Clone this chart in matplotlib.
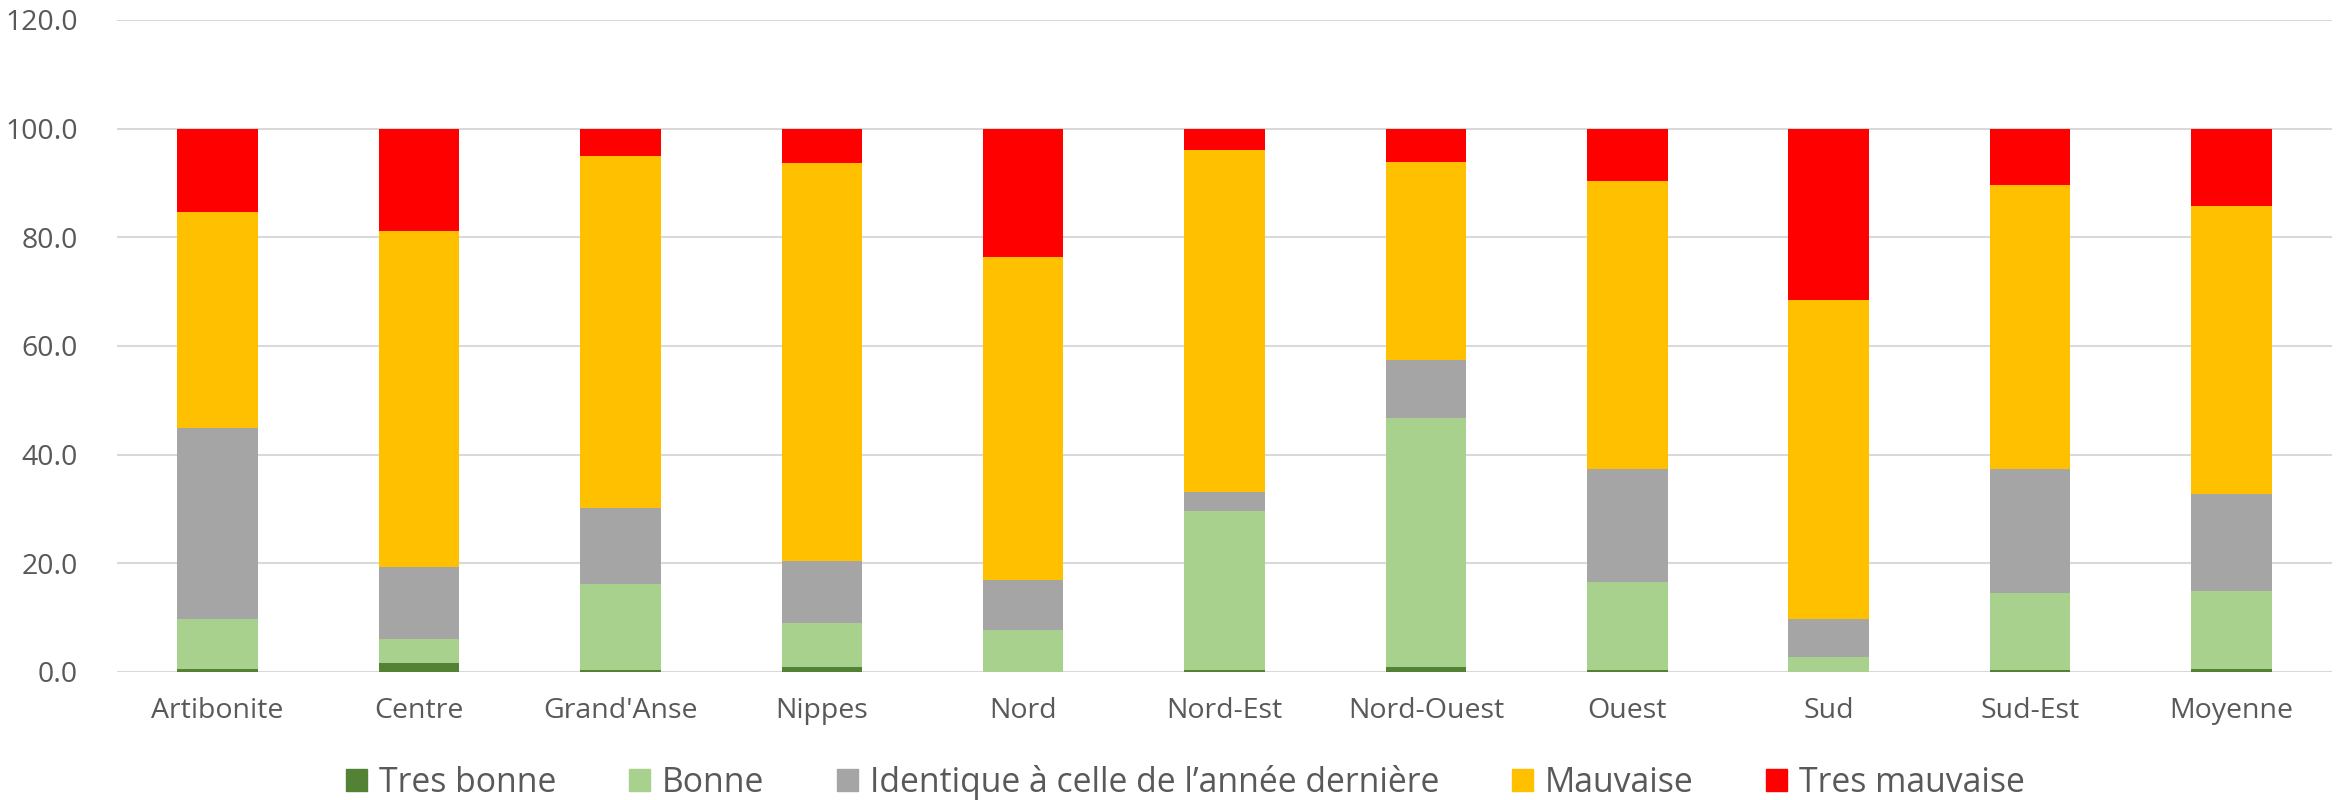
import matplotlib.pyplot as plt
import numpy as np
from matplotlib.patches import Patch

plt.rcParams['font.family'] = ['Open Sans', 'DejaVu Sans']

regions = ["Artibonite", "Centre", "Grand'Anse", "Nippes", "Nord", "Nord-Est",
           "Nord-Ouest", "Ouest", "Sud", "Sud-Est", "Moyenne"]
tres_bonne = [0.5, 1.7, 0.3, 0.9, 0.0, 0.4, 0.9, 0.3, 0.0, 0.3, 0.6]
bonne = [9.2, 4.3, 15.9, 8.2, 7.8, 29.2, 45.8, 16.3, 2.7, 14.2, 14.4]
identique = [35.2, 13.3, 13.9, 11.3, 9.2, 3.6, 10.7, 20.8, 7.0, 22.9, 17.7]
mauvaise = [39.8, 61.9, 64.9, 73.2, 59.4, 62.8, 36.4, 52.9, 58.7, 52.3, 53.1]
tres_mauvaise = [15.3, 18.8, 5.0, 6.4, 23.6, 4.0, 6.2, 9.7, 31.6, 10.3, 14.2]

series = [
    ("Tres bonne", tres_bonne, "#548235"),
    ("Bonne", bonne, "#a9d18e"),
    ("Identique à celle de l\u2019année dernière", identique, "#a5a5a5"),
    ("Mauvaise", mauvaise, "#ffc000"),
    ("Tres mauvaise", tres_mauvaise, "#ff0000"),
]

txt = "#595959"
fig = plt.figure(figsize=(23.4, 8), dpi=100)
ax = fig.add_axes([0.05, 0.16, 0.9466, 0.815])

x = np.arange(len(regions))
bottom = np.zeros(len(regions))
for name, vals, col in series:
    ax.bar(x, vals, 0.4, bottom=bottom, color=col, zorder=3)
    bottom += np.array(vals)

ax.set_xlim(-0.5, len(regions) - 0.5)
ax.set_ylim(0, 120)
ax.set_yticks(np.arange(0, 121, 20))
ax.set_yticklabels(["%.1f" % v for v in np.arange(0, 121, 20)])
ax.set_xticks(x)
ax.set_xticklabels(regions)
ax.tick_params(length=0, labelsize=20.5, colors=txt)
ax.tick_params(axis='y', pad=28)
ax.tick_params(axis='x', pad=18)
ax.grid(axis='y', color='#d9d9d9', linewidth=1.5, zorder=0)
for s in ax.spines.values():
    s.set_visible(False)

handles = [Patch(color=c, label=n) for n, v, c in series]
fig.legend(handles=handles, loc='center', bbox_to_anchor=(0.5065, 0.022), ncol=5,
           frameon=False, fontsize=24.3, handlelength=0.63, handleheight=0.63,
           handletextpad=0.35, columnspacing=2.15, labelcolor=txt)

fig.savefig("out.png")
